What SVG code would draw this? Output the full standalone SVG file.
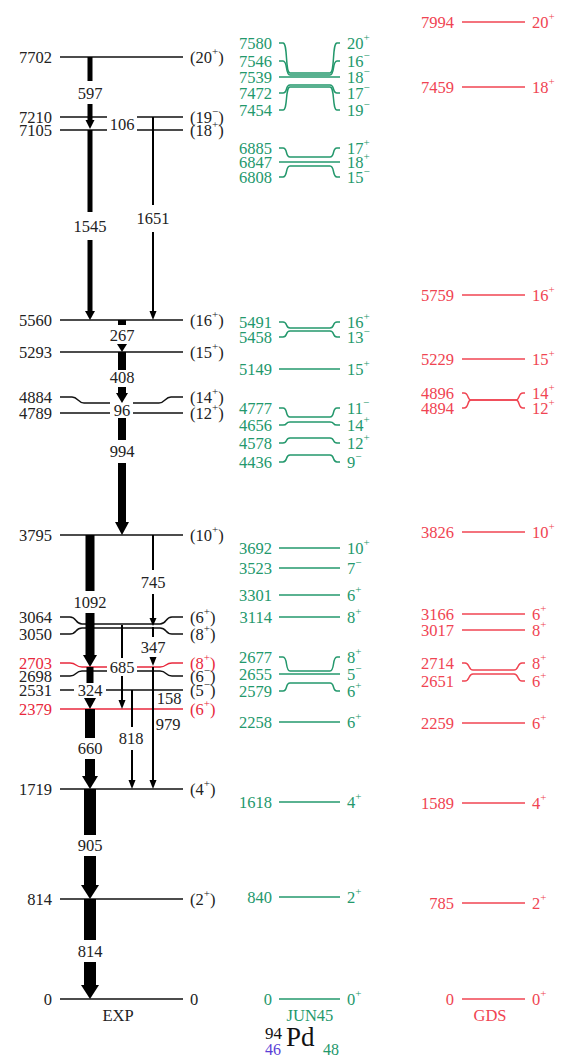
<svg xmlns="http://www.w3.org/2000/svg" width="569" height="1059" viewBox="0 0 569 1059" font-family="'Liberation Serif','Times New Roman',serif">
<style>
text{font-family:"Liberation Serif","Times New Roman",serif;font-size:16.5px}
.k{fill:#222}
.gr{fill:#23986c}
.rd{fill:#e8283c}
.rg{fill:#f04452}
.l{text-anchor:end}
.m{text-anchor:middle}
.s{font-size:11px}
.lk{stroke:#111;stroke-width:1.4;fill:none}
.lr{stroke:#e8283c;stroke-width:1.4;fill:none}
.lg{stroke:#23986c;stroke-width:1.5;fill:none}
.lgd{stroke:#f04452;stroke-width:1.5;fill:none}
.a{fill:#000}
</style>
<rect width="569" height="1059" fill="#fff"/>

<!-- EXP levels -->
<g id="exp-7702"><path class="lk" d="M60,57H183"/><text class="k l" x="52" y="63">7702</text><text class="k" x="190" y="63">(20<tspan class="s" dy="-8">+</tspan><tspan dy="8">)</tspan></text></g>
<g id="exp-7210"><path class="lk" d="M60,117H107M137,117H183"/><text class="k l" x="52" y="123">7210</text><text class="k" x="190" y="123">(19<tspan class="s" dy="-8">−</tspan><tspan dy="8">)</tspan></text></g>
<g id="exp-7105"><path class="lk" d="M60,130H107M137,130H183"/><text class="k l" x="52" y="136">7105</text><text class="k" x="190" y="136">(18<tspan class="s" dy="-8">+</tspan><tspan dy="8">)</tspan></text></g>
<g id="exp-5560"><path class="lk" d="M60,320H183"/><text class="k l" x="52" y="326">5560</text><text class="k" x="190" y="326">(16<tspan class="s" dy="-8">+</tspan><tspan dy="8">)</tspan></text></g>
<g id="exp-5293"><path class="lk" d="M60,352H183"/><text class="k l" x="52" y="358">5293</text><text class="k" x="190" y="358">(15<tspan class="s" dy="-8">+</tspan><tspan dy="8">)</tspan></text></g>
<g id="exp-4884"><path class="lk" d="M60,397H72C78,397 78,403 84,403H110M133,403H159C165,403 165,397 171,397H183"/><text class="k l" x="52" y="403">4884</text><text class="k" x="190" y="403">(14<tspan class="s" dy="-8">+</tspan><tspan dy="8">)</tspan></text></g>
<g id="exp-4789"><path class="lk" d="M60,413H110M133,413H183"/><text class="k l" x="52" y="419">4789</text><text class="k" x="190" y="419">(12<tspan class="s" dy="-8">+</tspan><tspan dy="8">)</tspan></text></g>
<g id="exp-3795"><path class="lk" d="M60,535H183"/><text class="k l" x="52" y="541">3795</text><text class="k" x="190" y="541">(10<tspan class="s" dy="-8">+</tspan><tspan dy="8">)</tspan></text></g>
<g id="exp-3064"><path class="lk" d="M60,617H70C77,617 75,624 82,624H160C167,624 165,617 172,617H183"/><text class="k l" x="52" y="623">3064</text><text class="k" x="190" y="623">(6<tspan class="s" dy="-8">+</tspan><tspan dy="8">)</tspan></text></g>
<g id="exp-3050"><path class="lk" d="M60,634H70C77,634 75,628 82,628H160C167,628 165,634 172,634H183"/><text class="k l" x="52" y="640">3050</text><text class="k" x="190" y="640">(8<tspan class="s" dy="-8">+</tspan><tspan dy="8">)</tspan></text></g>
<g id="exp-2703"><path class="lr" d="M60,663H70C77,663 75,667 82,667H107M137,667H160C167,667 165,663 172,663H183"/><text class="rd l" x="52" y="669">2703</text><text class="rd" x="190" y="669">(8<tspan class="s" dy="-8">+</tspan><tspan dy="8">)</tspan></text></g>
<g id="exp-2698"><path class="lk" d="M60,676H70C77,676 75,671 82,671H107M137,671H160C167,671 165,676 172,676H183"/><text class="k l" x="52" y="682">2698</text><text class="k" x="190" y="682">(6<tspan class="s" dy="-8">−</tspan><tspan dy="8">)</tspan></text></g>
<g id="exp-2531"><path class="lk" d="M60,690H74M106,690H183"/><text class="k l" x="52" y="696">2531</text><text class="k" x="190" y="696">(5<tspan class="s" dy="-8">−</tspan><tspan dy="8">)</tspan></text></g>
<g id="exp-2379"><path class="lr" d="M60,709H183"/><text class="rd l" x="52" y="715">2379</text><text class="rd" x="190" y="715">(6<tspan class="s" dy="-8">+</tspan><tspan dy="8">)</tspan></text></g>
<g id="exp-1719"><path class="lk" d="M60,789H183"/><text class="k l" x="52" y="795">1719</text><text class="k" x="190" y="795">(4<tspan class="s" dy="-8">+</tspan><tspan dy="8">)</tspan></text></g>
<g id="exp-814"><path class="lk" d="M60,899H183"/><text class="k l" x="52" y="905">814</text><text class="k" x="190" y="905">(2<tspan class="s" dy="-8">+</tspan><tspan dy="8">)</tspan></text></g>
<g id="exp-0"><path class="lk" d="M60,999H183"/><text class="k l" x="52" y="1005">0</text><text class="k" x="190" y="1005">0</text></g>
<text id="lbl-exp" class="k m" x="118" y="1021">EXP</text>

<!-- EXP transitions -->
<g id="connectors">
<rect class="a" x="87.5" y="57" width="5" height="24"/><rect class="a" x="87.5" y="104" width="5" height="16"/><polygon class="a" points="85.5,120 94.5,120 90,129"/>
<rect class="a" x="87.5" y="130" width="5" height="82"/><rect class="a" x="87.5" y="240" width="5" height="71"/><polygon class="a" points="85,311 95,311 90,320"/>
<rect class="a" x="152" y="117" width="2" height="88"/><rect class="a" x="152" y="232" width="2" height="80"/><polygon class="a" points="149.5,311 156.5,311 153,320"/>
<rect class="a" x="118" y="320" width="8" height="5"/><polygon class="a" points="117,344 127,344 122,352"/>
<rect class="a" x="118" y="352" width="8" height="18"/><rect class="a" x="118" y="387" width="8" height="7"/><polygon class="a" points="116,393 128,393 122,403"/>
<rect class="a" x="118" y="418" width="8" height="22"/><rect class="a" x="118" y="463" width="8" height="60"/><polygon class="a" points="115,522 129,522 122,535"/>
<rect class="a" x="85.5" y="535" width="9" height="56"/><rect class="a" x="85.5" y="613" width="9" height="43"/><polygon class="a" points="83,655 97,655 90,667"/>
<rect class="a" x="152" y="535" width="2" height="35"/><rect class="a" x="152" y="594" width="2" height="24"/><polygon class="a" points="149.5,618 156.5,618 153,626"/>
<rect class="a" x="152" y="627" width="2" height="10"/><polygon class="a" points="149.5,657 156.5,657 153,666"/>
<rect class="a" x="121" y="625" width="2" height="33"/><rect class="a" x="121" y="676" width="2" height="24"/><polygon class="a" points="118.5,700 125.5,700 122,709"/>
<rect class="a" x="86.5" y="667" width="7" height="16"/><polygon class="a" points="84,698 96,698 90,709"/>
<rect class="a" x="85" y="709" width="10" height="29"/><rect class="a" x="85" y="759" width="10" height="17"/><polygon class="a" points="82,776 98,776 90,789"/>
<rect class="a" x="131" y="690" width="2" height="37"/><rect class="a" x="131" y="750" width="2" height="30"/><polygon class="a" points="128.5,780 135.5,780 132,789"/>
<rect class="a" x="152" y="667" width="2" height="113"/><polygon class="a" points="149.5,780 156.5,780 153,789"/>
<rect class="a" x="84" y="789" width="12" height="46"/><rect class="a" x="84" y="856" width="12" height="29"/><polygon class="a" points="81,885 99,885 90,899"/>
<rect class="a" x="84" y="899" width="12" height="41"/><rect class="a" x="84" y="962" width="12" height="23"/><polygon class="a" points="81,985 99,985 90,999"/>
<text class="k m" x="90" y="99">597</text>
<text class="k m" x="122" y="130">106</text>
<text class="k m" x="90" y="232">1545</text>
<text class="k m" x="153" y="224">1651</text>
<text class="k m" x="122" y="341">267</text>
<text class="k m" x="122" y="383">408</text>
<text class="k m" x="122" y="416">96</text>
<text class="k m" x="122" y="457">994</text>
<text class="k m" x="90" y="608">1092</text>
<text class="k m" x="153" y="588">745</text>
<text class="k m" x="153" y="653">347</text>
<text class="k m" x="122" y="673">685</text>
<text class="k m" x="90" y="696">324</text>
<text class="k m" x="169" y="704">158</text>
<text class="k m" x="168" y="730">979</text>
<text class="k m" x="131" y="744">818</text>
<text class="k m" x="90" y="754">660</text>
<text class="k m" x="90" y="851">905</text>
<text class="k m" x="90" y="957">814</text>
</g>

<!-- JUN45 levels -->
<g id="jun-7580"><path class="lg" d="M279,43H283C288,43 285,73 290,73H330C335,73 332,43 337,43H340"/><text class="gr l" x="272" y="49">7580</text><text class="gr" x="347" y="49">20<tspan class="s" dy="-8">+</tspan></text></g>
<g id="jun-7546"><path class="lg" d="M279,61H283C288,61 285,75 290,75H330C335,75 332,61 337,61H340"/><text class="gr l" x="272" y="67">7546</text><text class="gr" x="347" y="67">16<tspan class="s" dy="-8">−</tspan></text></g>
<g id="jun-7539"><path class="lg" d="M279,77H340"/><text class="gr l" x="272" y="83">7539</text><text class="gr" x="347" y="83">18<tspan class="s" dy="-8">−</tspan></text></g>
<g id="jun-7472"><path class="lg" d="M279,93H283C288,93 285,85 290,85H330C335,85 332,93 337,93H340"/><text class="gr l" x="272" y="99">7472</text><text class="gr" x="347" y="99">17<tspan class="s" dy="-8">−</tspan></text></g>
<g id="jun-7454"><path class="lg" d="M279,110H283C288,110 285,87 290,87H330C335,87 332,110 337,110H340"/><text class="gr l" x="272" y="116">7454</text><text class="gr" x="347" y="116">19<tspan class="s" dy="-8">−</tspan></text></g>
<g id="jun-6885"><path class="lg" d="M279,148H283C288,148 285,157 290,157H330C335,157 332,148 337,148H340"/><text class="gr l" x="272" y="154">6885</text><text class="gr" x="347" y="154">17<tspan class="s" dy="-8">+</tspan></text></g>
<g id="jun-6847"><path class="lg" d="M279,162H340"/><text class="gr l" x="272" y="168">6847</text><text class="gr" x="347" y="168">18<tspan class="s" dy="-8">+</tspan></text></g>
<g id="jun-6808"><path class="lg" d="M279,177H283C288,177 285,166 290,166H330C335,166 332,177 337,177H340"/><text class="gr l" x="272" y="183">6808</text><text class="gr" x="347" y="183">15<tspan class="s" dy="-8">−</tspan></text></g>
<g id="jun-5491"><path class="lg" d="M279,322H283C288,322 285,328 290,328H330C335,328 332,322 337,322H340"/><text class="gr l" x="272" y="328">5491</text><text class="gr" x="347" y="328">16<tspan class="s" dy="-8">+</tspan></text></g>
<g id="jun-5458"><path class="lg" d="M279,337H283C288,337 285,331 290,331H330C335,331 332,337 337,337H340"/><text class="gr l" x="272" y="343">5458</text><text class="gr" x="347" y="343">13<tspan class="s" dy="-8">−</tspan></text></g>
<g id="jun-5149"><path class="lg" d="M279,369H340"/><text class="gr l" x="272" y="375">5149</text><text class="gr" x="347" y="375">15<tspan class="s" dy="-8">+</tspan></text></g>
<g id="jun-4777"><path class="lg" d="M279,408H283C288,408 285,417 290,417H330C335,417 332,408 337,408H340"/><text class="gr l" x="272" y="414">4777</text><text class="gr" x="347" y="414">11<tspan class="s" dy="-8">−</tspan></text></g>
<g id="jun-4656"><path class="lg" d="M279,425H283C288,425 285,422 290,422H330C335,422 332,425 337,425H340"/><text class="gr l" x="272" y="431">4656</text><text class="gr" x="347" y="431">14<tspan class="s" dy="-8">+</tspan></text></g>
<g id="jun-4578"><path class="lg" d="M279,443H283C288,443 285,438 290,438H330C335,438 332,443 337,443H340"/><text class="gr l" x="272" y="449">4578</text><text class="gr" x="347" y="449">12<tspan class="s" dy="-8">+</tspan></text></g>
<g id="jun-4436"><path class="lg" d="M279,462H283C288,462 285,455 290,455H330C335,455 332,462 337,462H340"/><text class="gr l" x="272" y="468">4436</text><text class="gr" x="347" y="468">9<tspan class="s" dy="-8">−</tspan></text></g>
<g id="jun-3692"><path class="lg" d="M279,548H340"/><text class="gr l" x="272" y="554">3692</text><text class="gr" x="347" y="554">10<tspan class="s" dy="-8">+</tspan></text></g>
<g id="jun-3523"><path class="lg" d="M279,568H340"/><text class="gr l" x="272" y="574">3523</text><text class="gr" x="347" y="574">7<tspan class="s" dy="-8">−</tspan></text></g>
<g id="jun-3301"><path class="lg" d="M279,595H340"/><text class="gr l" x="272" y="601">3301</text><text class="gr" x="347" y="601">6<tspan class="s" dy="-8">+</tspan></text></g>
<g id="jun-3114"><path class="lg" d="M279,617H340"/><text class="gr l" x="272" y="623">3114</text><text class="gr" x="347" y="623">8<tspan class="s" dy="-8">+</tspan></text></g>
<g id="jun-2677"><path class="lg" d="M279,657H283C288,657 285,671 290,671H330C335,671 332,657 337,657H340"/><text class="gr l" x="272" y="663">2677</text><text class="gr" x="347" y="663">8<tspan class="s" dy="-8">+</tspan></text></g>
<g id="jun-2655"><path class="lg" d="M279,674H340"/><text class="gr l" x="272" y="680">2655</text><text class="gr" x="347" y="680">5<tspan class="s" dy="-8">−</tspan></text></g>
<g id="jun-2579"><path class="lg" d="M279,691H283C288,691 285,683 290,683H330C335,683 332,691 337,691H340"/><text class="gr l" x="272" y="697">2579</text><text class="gr" x="347" y="697">6<tspan class="s" dy="-8">+</tspan></text></g>
<g id="jun-2258"><path class="lg" d="M279,722H340"/><text class="gr l" x="272" y="728">2258</text><text class="gr" x="347" y="728">6<tspan class="s" dy="-8">+</tspan></text></g>
<g id="jun-1618"><path class="lg" d="M279,802H340"/><text class="gr l" x="272" y="808">1618</text><text class="gr" x="347" y="808">4<tspan class="s" dy="-8">+</tspan></text></g>
<g id="jun-840"><path class="lg" d="M279,897H340"/><text class="gr l" x="272" y="903">840</text><text class="gr" x="347" y="903">2<tspan class="s" dy="-8">+</tspan></text></g>
<g id="jun-0"><path class="lg" d="M279,999H340"/><text class="gr l" x="272" y="1005">0</text><text class="gr" x="347" y="1005">0<tspan class="s" dy="-8">+</tspan></text></g>
<text id="lbl-jun" class="gr m" x="310" y="1021">JUN45</text>

<!-- GDS levels -->
<g id="gds-7994"><path class="lgd" d="M462,22H525"/><text class="rg l" x="454" y="28">7994</text><text class="rg" x="532" y="28">20<tspan class="s" dy="-8">+</tspan></text></g>
<g id="gds-7459"><path class="lgd" d="M462,87H525"/><text class="rg l" x="454" y="93">7459</text><text class="rg" x="532" y="93">18<tspan class="s" dy="-8">+</tspan></text></g>
<g id="gds-5759"><path class="lgd" d="M462,295H525"/><text class="rg l" x="454" y="301">5759</text><text class="rg" x="532" y="301">16<tspan class="s" dy="-8">+</tspan></text></g>
<g id="gds-5229"><path class="lgd" d="M462,359H525"/><text class="rg l" x="454" y="365">5229</text><text class="rg" x="532" y="365">15<tspan class="s" dy="-8">+</tspan></text></g>
<g id="gds-4896"><path class="lgd" d="M462,393H464C469,393 467,400 471,400H516C520,400 518,393 523,393H525"/><text class="rg l" x="454" y="399">4896</text><text class="rg" x="532" y="399">14<tspan class="s" dy="-8">+</tspan></text></g>
<g id="gds-4894"><path class="lgd" d="M462,408H464C469,408 467,400 471,400H516C520,400 518,408 523,408H525"/><text class="rg l" x="454" y="414">4894</text><text class="rg" x="532" y="414">12<tspan class="s" dy="-8">+</tspan></text></g>
<g id="gds-3826"><path class="lgd" d="M462,532H525"/><text class="rg l" x="454" y="538">3826</text><text class="rg" x="532" y="538">10<tspan class="s" dy="-8">+</tspan></text></g>
<g id="gds-3166"><path class="lgd" d="M462,614H525"/><text class="rg l" x="454" y="620">3166</text><text class="rg" x="532" y="620">6<tspan class="s" dy="-8">+</tspan></text></g>
<g id="gds-3017"><path class="lgd" d="M462,630H525"/><text class="rg l" x="454" y="636">3017</text><text class="rg" x="532" y="636">8<tspan class="s" dy="-8">+</tspan></text></g>
<g id="gds-2714"><path class="lgd" d="M462,663H465C470,663 468,670 473,670H514C519,670 517,663 522,663H525"/><text class="rg l" x="454" y="669">2714</text><text class="rg" x="532" y="669">8<tspan class="s" dy="-8">+</tspan></text></g>
<g id="gds-2651"><path class="lgd" d="M462,681H465C470,681 468,674 473,674H514C519,674 517,681 522,681H525"/><text class="rg l" x="454" y="687">2651</text><text class="rg" x="532" y="687">6<tspan class="s" dy="-8">+</tspan></text></g>
<g id="gds-2259"><path class="lgd" d="M462,723H525"/><text class="rg l" x="454" y="729">2259</text><text class="rg" x="532" y="729">6<tspan class="s" dy="-8">+</tspan></text></g>
<g id="gds-1589"><path class="lgd" d="M462,803H525"/><text class="rg l" x="454" y="809">1589</text><text class="rg" x="532" y="809">4<tspan class="s" dy="-8">+</tspan></text></g>
<g id="gds-785"><path class="lgd" d="M462,903H525"/><text class="rg l" x="454" y="909">785</text><text class="rg" x="532" y="909">2<tspan class="s" dy="-8">+</tspan></text></g>
<g id="gds-0"><path class="lgd" d="M462,999H525"/><text class="rg l" x="454" y="1005">0</text><text class="rg" x="532" y="1005">0<tspan class="s" dy="-8">+</tspan></text></g>
<text id="lbl-gds" class="rg m" x="490" y="1021">GDS</text>

<!-- nucleus label -->
<g id="nucleus">
<text x="265" y="1039" fill="#111" style="font-size:17px">94</text>
<text x="286" y="1046" fill="#111" style="font-size:27px">Pd</text>
<text x="265" y="1055" fill="#5b3fd6" style="font-size:16px">46</text>
<text x="323" y="1055" fill="#23986c" style="font-size:16px">48</text>
</g>
</svg>
